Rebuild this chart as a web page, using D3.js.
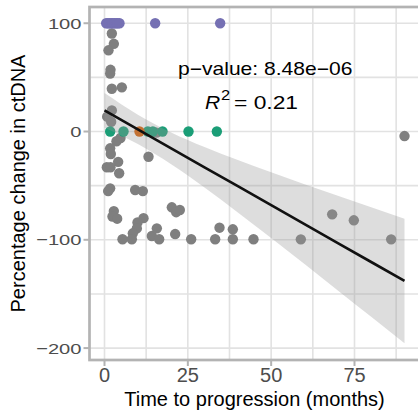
<!DOCTYPE html>
<html>
<head>
<meta charset="utf-8">
<script src="https://cdn.jsdelivr.net/npm/d3@7"></script>
<style>
  html, body { margin: 0; padding: 0; background: #ffffff; }
  svg { display: block; }
  text { font-family: "Liberation Sans", Arial, Helvetica, sans-serif; }
</style>
</head>
<body>
<svg id="chart" width="418" height="414"></svg>
<script>
// ---- data ----
const grayPoints = [
  [2.2,90.5],[2.8,81],[1.2,75],[1.8,57],[1.7,53.5],[2.2,39.5],[5.2,40.8],[2.2,19.5],[0.8,13.7],[2.0,9],
  [4.8,-6],[3.6,-9],[15.6,-1],[1.7,-15.5],[1.9,-20.8],[4.1,-28],[0.7,-33],[1.8,-33],[4.4,-38.5],[13.2,-23.3],
  [1.7,-52.5],[1.1,-55],[9.2,-54],[11.5,-55],[2.8,-73.5],[2.4,-78.5],[3.8,-80.5],[11.7,-80],[9.9,-84],[9.7,-89.5],
  [8.5,-94],[5.4,-99.5],[8.2,-99.5],[14.2,-96.5],[15.7,-89.4],[16.4,-99.5],[20.2,-70],[21.5,-74.5],[22.6,-72.5],
  [21.2,-94.7],[26,-99.5],[33.2,-99.5],[34.5,-88.8],[38.5,-90.3],[38.5,-99.5],[44.7,-99.5],[58.9,-99.6],
  [68.3,-76.5],[74.8,-82],[86,-99.6],[90,-4.2]
];
const purplePoints = [
  [0.5,100],[1,100],[1.5,100],[2,100],[2.5,100],[3,100],[3.5,100],[4,100],[4.5,100],[15.2,100],[34.7,100]
];
const greenPoints = [[1.7,0],[5.7,0],[13.0,0],[14.5,0],[17.4,0],[25.2,0],[33.7,0]];
const orangePoints = [[10.5,0]];

// linear fit with 95% confidence band
const smoothX    = [0, 10, 20, 30, 40, 50, 60, 70, 80, 90];
const smoothFit  = [19.5, 2, -15.5, -33, -50.5, -68, -85.5, -103, -120.5, -138];
const smoothLow  = [3.5, -11.6, -30.2, -51.7, -74.7, -98.4, -122.4, -146.7, -171, -195.5];
const smoothHigh = [35.5, 15.6, -0.8, -14.3, -26.3, -37.6, -48.6, -59.3, -70, -80.5];

const xMajorTicks = [0, 25, 50, 75];
const xMinorTicks = [12.5, 37.5, 62.5, 87.5];
const yMajorTicks = [-200, -100, 0, 100];
const yMinorTicks = [-150, -50, 50];

const xTitle = "Time to progression (months)";
const yTitle = "Percentage change in ctDNA";
const pText = "p\u2212value: 8.48e\u221206";
const r2Value = "0.21";

// ---- layout ----
const svg = d3.select("#chart");
const panel = { left: 89.5, right: 419.5, top: 7, bottom: 360 };
const x = d3.scaleLinear().domain([-4.5, 94.5]).range([panel.left, panel.right]);
const y = d3.scaleLinear().domain([-211, 115]).range([panel.bottom, panel.top]);

const gridColor = "#e2e2e2";
const borderColor = "#b3b3b3";

svg.append("defs").append("clipPath").attr("id", "clip")
  .append("rect")
  .attr("x", panel.left).attr("y", panel.top)
  .attr("width", panel.right - panel.left).attr("height", panel.bottom - panel.top);

const plot = svg.append("g").attr("clip-path", "url(#clip)");

// grid
plot.selectAll(".gxm").data(xMinorTicks.concat(xMajorTicks)).enter().append("line")
  .attr("x1", d => x(d)).attr("x2", d => x(d))
  .attr("y1", panel.top).attr("y2", panel.bottom)
  .attr("stroke", gridColor).attr("stroke-width", 1.6);
plot.selectAll(".gym").data(yMinorTicks.concat(yMajorTicks)).enter().append("line")
  .attr("y1", d => y(d)).attr("y2", d => y(d))
  .attr("x1", panel.left).attr("x2", panel.right)
  .attr("stroke", gridColor).attr("stroke-width", 1.6);

// points
function drawPoints(data, color) {
  plot.append("g").selectAll("circle").data(data).enter().append("circle")
    .attr("cx", d => x(d[0])).attr("cy", d => y(d[1]))
    .attr("r", 5.2).attr("fill", color);
}
drawPoints(grayPoints, "#7f7f7f");
drawPoints(purplePoints, "#7570B3");
drawPoints(greenPoints, "#1B9E77");
drawPoints(orangePoints, "#D95F02");

// ribbon + fit line
const band = smoothX.map((d, i) => ({ x: d, lo: smoothLow[i], hi: smoothHigh[i], fit: smoothFit[i] }));
plot.append("path").datum(band)
  .attr("d", d3.area().x(d => x(d.x)).y0(d => y(d.lo)).y1(d => y(d.hi)).curve(d3.curveMonotoneX))
  .attr("fill", "#999999").attr("fill-opacity", 0.33);
plot.append("path").datum(band)
  .attr("d", d3.line().x(d => x(d.x)).y(d => y(d.fit)))
  .attr("fill", "none").attr("stroke", "#111111").attr("stroke-width", 2.6);

// panel border
svg.append("rect")
  .attr("x", panel.left).attr("y", panel.top)
  .attr("width", panel.right - panel.left + 5).attr("height", panel.bottom - panel.top)
  .attr("fill", "none").attr("stroke", borderColor).attr("stroke-width", 2.7);

// ticks
svg.selectAll(".yt").data(yMajorTicks).enter().append("line")
  .attr("x1", panel.left - 6).attr("x2", panel.left)
  .attr("y1", d => y(d)).attr("y2", d => y(d))
  .attr("stroke", borderColor).attr("stroke-width", 2);
svg.selectAll(".xt").data(xMajorTicks).enter().append("line")
  .attr("y1", panel.bottom).attr("y2", panel.bottom + 6)
  .attr("x1", d => x(d)).attr("x2", d => x(d))
  .attr("stroke", borderColor).attr("stroke-width", 2);

// tick labels
const fmt = d => d < 0 ? "\u2212" + Math.abs(d) : String(d);
svg.selectAll(".ytl").data(yMajorTicks).enter().append("text")
  .attr("transform", d => `translate(${panel.left - 8},${y(d)}) scale(1.3,1)`)
  .attr("text-anchor", "end").attr("dy", "0.36em")
  .attr("font-size", 15.5).attr("fill", "#4d4d4d")
  .text(fmt);
svg.selectAll(".xtl").data(xMajorTicks).enter().append("text")
  .attr("x", d => x(d)).attr("y", 382)
  .attr("text-anchor", "middle")
  .attr("font-size", 20).attr("fill", "#4d4d4d")
  .text(fmt);

// axis titles
svg.append("text")
  .attr("x", (panel.left + panel.right) / 2).attr("y", 406)
  .attr("text-anchor", "middle").attr("font-size", 20).attr("fill", "#000")
  .text(xTitle);
svg.append("text")
  .attr("transform", `translate(25,${(panel.top + panel.bottom) / 2}) rotate(-90)`)
  .attr("text-anchor", "middle").attr("font-size", 20).attr("fill", "#000")
  .text(yTitle);

// annotations
svg.append("text")
  .attr("transform", "translate(178,75) scale(1.17,1)")
  .attr("font-size", 18).attr("fill", "#000")
  .text(pText);
svg.append("text")
  .attr("transform", "translate(205,109) scale(1.17,1)")
  .attr("font-size", 18).attr("font-style", "italic").attr("fill", "#000")
  .text("R");
svg.append("text")
  .attr("transform", "translate(221,100) scale(1.1,1)")
  .attr("font-size", 15).attr("fill", "#000")
  .text("2");
svg.append("text")
  .attr("transform", "translate(234,109) scale(1.2,1)")
  .attr("font-size", 19).attr("fill", "#000")
  .text("= " + r2Value);
</script>
</body>
</html>
